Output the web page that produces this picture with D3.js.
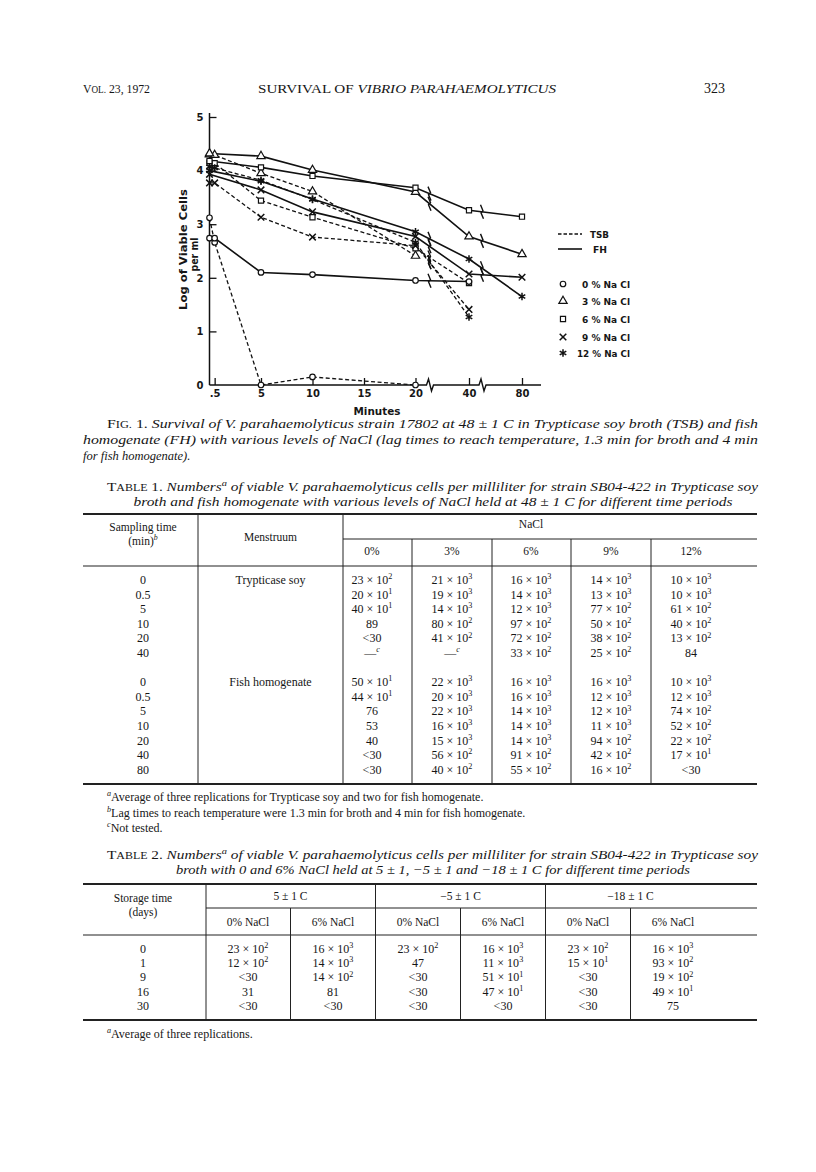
<!DOCTYPE html>
<html>
<head>
<meta charset="utf-8">
<script src="https://d3js.org/d3.v7.min.js"></script>
<style>
  body { margin: 0; background: #fff; }
  svg text { fill: #161616; }
</style>
</head>
<body>
<div id="page"></div>
<script>
// ---------- Fig. 1 data: log of viable cells per ml ----------
var minuteTicks = [0.5, 5, 10, 15, 20, 40, 80];
var minuteLabels = [".5", "5", "10", "15", "20", "40", "80"];
var logTicks = [0, 1, 2, 3, 4, 5];

var tsb0  = [[0, 3.12], [0.5, 2.66], [5, 0], [10, 0.15], [20, 0]];
var tsb3  = [[0, 4.30], [0.5, 4.29], [5, 3.95], [10, 3.61], [20, 2.41]];
var tsb6  = [[0, 4.15], [0.5, 4.14], [5, 3.44], [10, 3.13], [20, 2.55], [40, 1.90]];
var tsb9  = [[0, 3.77], [0.5, 3.77], [5, 3.13], [10, 2.76], [20, 2.60], [40, 1.41]];
var tsb12 = [[0, 4.07], [0.5, 4.05], [5, 3.82], [10, 3.46], [20, 2.66], [40, 1.27]];
var fh0  = [[0, 2.74], [0.5, 2.74], [5, 2.10], [10, 2.06], [20, 1.95], [40, 1.93]];
var fh3  = [[0, 4.32], [5, 4.27], [10, 4.01], [20, 3.60], [40, 2.77], [80, 2.44]];
var fh6  = [[0, 4.18], [5, 4.06], [10, 3.90], [20, 3.68], [40, 3.26], [80, 3.14]];
var fh9  = [[0, 3.93], [5, 3.64], [10, 3.23], [20, 2.77], [40, 2.07], [80, 2.01]];
var fh12 = [[0, 4.00], [5, 3.80], [10, 3.47], [20, 2.86], [40, 2.35], [80, 1.65]];

var saltLevels = [0, 3, 6, 9, 12];

// ---------- Table 1 ----------
var t1Cols = ["0%", "3%", "6%", "9%", "12%"];
var t1TsbTimes = ["0", "0.5", "5", "10", "20", "40"];
var t1Tsb = [
  ["23 × 10^{2}", "21 × 10^{3}", "16 × 10^{3}", "14 × 10^{3}", "10 × 10^{3}"],
  ["20 × 10^{1}", "19 × 10^{3}", "14 × 10^{3}", "13 × 10^{3}", "10 × 10^{3}"],
  ["40 × 10^{1}", "14 × 10^{3}", "12 × 10^{3}", "77 × 10^{2}", "61 × 10^{2}"],
  ["89", "80 × 10^{2}", "97 × 10^{2}", "50 × 10^{2}", "40 × 10^{2}"],
  ["<30", "41 × 10^{2}", "72 × 10^{2}", "38 × 10^{2}", "13 × 10^{2}"],
  ["—^{c}", "—^{c}", "33 × 10^{2}", "25 × 10^{2}", "84"]
];
var t1FhTimes = ["0", "0.5", "5", "10", "20", "40", "80"];
var t1Fh = [
  ["50 × 10^{1}", "22 × 10^{3}", "16 × 10^{3}", "16 × 10^{3}", "10 × 10^{3}"],
  ["44 × 10^{1}", "20 × 10^{3}", "16 × 10^{3}", "12 × 10^{3}", "12 × 10^{3}"],
  ["76", "22 × 10^{3}", "14 × 10^{3}", "12 × 10^{3}", "74 × 10^{2}"],
  ["53", "16 × 10^{3}", "14 × 10^{3}", "11 × 10^{3}", "52 × 10^{2}"],
  ["40", "15 × 10^{3}", "14 × 10^{3}", "94 × 10^{2}", "22 × 10^{2}"],
  ["<30", "56 × 10^{2}", "91 × 10^{2}", "42 × 10^{2}", "17 × 10^{1}"],
  ["<30", "40 × 10^{2}", "55 × 10^{2}", "16 × 10^{2}", "<30"]
];

// ---------- Table 2 ----------
var t2Temps = ["5 ± 1 C", "−5 ± 1 C", "−18 ± 1 C"];
var t2Sub = ["0% NaCl", "6% NaCl"];
var t2Days = ["0", "1", "9", "16", "30"];
var t2Rows = [
  ["23 × 10^{2}", "16 × 10^{3}", "23 × 10^{2}", "16 × 10^{3}", "23 × 10^{2}", "16 × 10^{3}"],
  ["12 × 10^{2}", "14 × 10^{3}", "47", "11 × 10^{3}", "15 × 10^{1}", "93 × 10^{2}"],
  ["<30", "14 × 10^{2}", "<30", "51 × 10^{1}", "<30", "19 × 10^{2}"],
  ["31", "81", "<30", "47 × 10^{1}", "<30", "49 × 10^{1}"],
  ["<30", "<30", "<30", "<30", "<30", "75"]
];

var svg = d3.select("#page").append("svg")
    .attr("width", 816)
    .attr("height", 1172);
svg.append("rect").attr("width", 816).attr("height", 1172).attr("fill", "#fff");

var serif = "'Liberation Serif', 'Times New Roman', serif";
var sans = "'DejaVu Sans', 'Open Sans', sans-serif";

// text with ^{sup}, *italic* and ~{small caps} pieces
function rich(sel, str, fs) {
  var parts = str.split(/(\^\{[^}]*\}|\*[^*]*\*|~\{[^}]*\})/).filter(function(p) { return p !== ""; });
  var shift = 0;
  parts.forEach(function(p) {
    var t = sel.append("tspan"), want = 0;
    if (p.slice(0, 2) === "^{") {
      var s = p.slice(2, -1);
      t.text(s).attr("font-size", fs * 0.68);
      if (/[a-z]/.test(s)) t.attr("font-style", "italic");
      want = -fs * 0.4;
    } else if (p[0] === "*" && p.length > 1) {
      t.text(p.slice(1, -1)).attr("font-style", "italic");
    } else if (p.slice(0, 2) === "~{") {
      t.text(p.slice(2, -1)).attr("font-size", fs * 0.78);
    } else {
      t.text(p);
    }
    if (want !== shift) { t.attr("dy", want - shift); shift = want; }
  });
}

function txt(x, y, str, o) {
  o = o || {};
  var fs = o.size || 12;
  var t = svg.append("text")
      .attr("x", x).attr("y", y)
      .attr("font-family", serif)
      .attr("font-size", fs)
      .attr("text-anchor", o.anchor || "start");
  if (o.len) t.attr("textLength", o.len).attr("lengthAdjust", "spacingAndGlyphs");
  rich(t, str, fs);
  return t;
}

function rule(x1, x2, y, w) {
  svg.append("line").attr("x1", x1).attr("x2", x2).attr("y1", y).attr("y2", y)
     .attr("stroke", "#222").attr("stroke-width", w || 1);
}
function vrule(x, y1, y2) {
  svg.append("line").attr("x1", x).attr("x2", x).attr("y1", y1).attr("y2", y2)
     .attr("stroke", "#222").attr("stroke-width", 1);
}

/******* PAGE HEADER *******/
txt(83, 93, "V~{OL.} 23, 1972", {size: 12.5, len: 67});
txt(407, 93, "SURVIVAL OF *VIBRIO PARAHAEMOLYTICUS*", {size: 12.5, anchor: "middle", len: 298});
txt(725, 93, "323", {size: 14, anchor: "end"});

/******* FIGURE 1 *******/
var x = d3.scaleLinear().domain([0, 20, 40, 80]).range([209.5, 415.5, 469, 522]);
var y = d3.scaleLinear().domain([0, 5]).range([385, 117]);
var break1 = x(20) + 14, break2 = x(40) + 13;

var chart = svg.append("g")
    .attr("font-family", sans)
    .attr("font-weight", "bold");

// x axis: ticks point up into the plot
var gx = chart.append("g")
    .attr("transform", "translate(0,385)")
    .call(d3.axisBottom(x)
        .tickValues(minuteTicks)
        .tickFormat(function(d, i) { return minuteLabels[i]; })
        .tickSizeInner(-7).tickSizeOuter(0).tickPadding(5));
gx.select(".domain").remove();
gx.selectAll("line").attr("stroke", "#111").attr("stroke-width", 1.3);
gx.selectAll("text").attr("font-size", 10).attr("font-family", sans).attr("font-weight", "bold").attr("fill", "#161616");

// axis line with the two scale breaks
chart.append("path")
    .attr("d", "M209.5,385H" + (break1 - 3) + "l2,-6l3,12l2,-6H" + (break2 - 3) + "l2,-6l3,12l2,-6H541")
    .attr("fill", "none").attr("stroke", "#111").attr("stroke-width", 1.4);

var gy = chart.append("g")
    .attr("transform", "translate(209.5,0)")
    .call(d3.axisLeft(y).tickValues(logTicks).tickFormat(d3.format("d"))
        .tickSizeInner(-7).tickSizeOuter(0).tickPadding(6));
gy.select(".domain").remove();
gy.selectAll(".tick line").attr("stroke", "#111").attr("stroke-width", 1.3)
    .filter(function(d) { return d === 0; }).remove();
gy.selectAll("text").attr("font-size", 10).attr("font-family", sans).attr("font-weight", "bold").attr("fill", "#161616");
chart.append("line").attr("x1", 209.5).attr("x2", 209.5).attr("y1", 385).attr("y2", 113)
    .attr("stroke", "#111").attr("stroke-width", 1.5);

chart.append("text")
    .attr("transform", "translate(187,249.5) rotate(-90)")
    .attr("text-anchor", "middle").attr("font-size", 10)
    .attr("textLength", 121).attr("lengthAdjust", "spacingAndGlyphs")
    .text("Log of Viable Cells");
chart.append("text")
    .attr("transform", "translate(198,254.5) rotate(-90)")
    .attr("text-anchor", "middle").attr("font-size", 10)
    .attr("textLength", 34).attr("lengthAdjust", "spacingAndGlyphs")
    .text("per ml");
chart.append("text")
    .attr("x", 377).attr("y", 415)
    .attr("text-anchor", "middle").attr("font-size", 10)
    .attr("textLength", 47).attr("lengthAdjust", "spacingAndGlyphs")
    .text("Minutes");

var series = [
  {data: tsb0, medium: "TSB", salt: 0}, {data: tsb3, medium: "TSB", salt: 3},
  {data: tsb6, medium: "TSB", salt: 6}, {data: tsb9, medium: "TSB", salt: 9},
  {data: tsb12, medium: "TSB", salt: 12},
  {data: fh0, medium: "FH", salt: 0}, {data: fh3, medium: "FH", salt: 3},
  {data: fh6, medium: "FH", salt: 6}, {data: fh9, medium: "FH", salt: 9},
  {data: fh12, medium: "FH", salt: 12}
];
var symbolOf = {0: d3.symbolCircle, 3: d3.symbolTriangle, 6: d3.symbolSquare, 9: d3.symbolTimes, 12: d3.symbolAsterisk};
var sizeOf = {0: 24, 3: 30, 6: 26, 9: 30, 12: 40};

var line = d3.line().x(function(d) { return x(d[0]); }).y(function(d) { return y(d[1]); });

series.forEach(function(s) {
  chart.append("path")
      .datum(s.data)
      .attr("d", line)
      .attr("fill", "none")
      .attr("stroke", "#111")
      .attr("stroke-width", s.medium === "FH" ? 1.6 : 1.3)
      .attr("stroke-dasharray", s.medium === "TSB" ? "4,2.5" : null);

  // break marks where a line crosses the scale breaks
  for (var i = 1; i < s.data.length; i++) {
    var a = s.data[i - 1], b = s.data[i], bx = null;
    if (a[0] <= 20 && b[0] >= 40) bx = break1;
    if (a[0] === 40 && b[0] === 80) bx = break2;
    if (bx === null) continue;
    var xa = x(a[0]), xb = x(b[0]), ya = y(a[1]), yb = y(b[1]);
    var yy = ya + (yb - ya) * (bx - xa) / (xb - xa);
    chart.append("path")
        .attr("d", "M" + (bx - 1.5) + "," + (yy - 7) + "L" + (bx + 1) + "," + (yy - 1) +
                   "L" + (bx - 1) + "," + (yy + 1) + "L" + (bx + 1.5) + "," + (yy + 7))
        .attr("fill", "none").attr("stroke", "#111").attr("stroke-width", 1.4);
  }
});

function marker(g, salt, px, py) {
  var open = salt <= 6;
  g.append("path")
      .attr("transform", "translate(" + px + "," + py + ")")
      .attr("d", d3.symbol().type(symbolOf[salt]).size(sizeOf[salt])())
      .attr("fill", open ? "#fff" : "none")
      .attr("stroke", "#111")
      .attr("stroke-width", open ? 1.2 : 1.5);
}
series.forEach(function(s) {
  s.data.forEach(function(d) { marker(chart, s.salt, x(d[0]), y(d[1])); });
});

// legend
chart.append("line").attr("x1", 558).attr("x2", 582).attr("y1", 234).attr("y2", 234)
    .attr("stroke", "#111").attr("stroke-width", 1.3).attr("stroke-dasharray", "3.5,2");
chart.append("text").attr("x", 590).attr("y", 238).attr("font-size", 9.5)
    .attr("textLength", 19).attr("lengthAdjust", "spacingAndGlyphs").text("TSB");
chart.append("line").attr("x1", 558).attr("x2", 582).attr("y1", 249).attr("y2", 249)
    .attr("stroke", "#111").attr("stroke-width", 1.6);
chart.append("text").attr("x", 593).attr("y", 253).attr("font-size", 9.5)
    .attr("textLength", 14).attr("lengthAdjust", "spacingAndGlyphs").text("FH");
var legendY = [284, 301, 319, 337, 353];
saltLevels.forEach(function(salt, i) {
  marker(chart, salt, 563, legendY[i]);
  chart.append("text")
      .attr("x", salt >= 10 ? 577 : 582).attr("y", legendY[i] + 3.5)
      .attr("font-size", 9.5)
      .attr("textLength", salt >= 10 ? 53 : 48).attr("lengthAdjust", "spacingAndGlyphs")
      .text(salt + " % Na Cl");
});

/******* CAPTION + TABLE 1 *******/
txt(107, 428, "F~{IG.} 1. *Survival of V. parahaemolyticus strain 17802 at 48 ± 1 C in Trypticase soy broth (TSB) and fish*", {size: 12.5, len: 651});
txt(83, 444, "*homogenate (FH) with various levels of NaCl (lag times to reach temperature, 1.3 min for broth and 4 min*", {size: 12.5, len: 675});
txt(83, 460, "*for fish homogenate).*", {size: 12.5});

txt(107, 491, "T~{ABLE} 1. *Numbers*^{a}* of viable V. parahaemolyticus cells per milliliter for strain SB04-422 in Trypticase soy*", {size: 12.5, len: 651});
txt(433, 506, "*broth and fish homogenate with various levels of NaCl held at 48 ± 1 C for different time periods*", {size: 12.5, anchor: "middle", len: 599});

var t1L = 83, t1R = 757, t1C1 = 198, t1C2 = 343;
var t1Mid = [372, 452, 531, 611, 691];
var t1Inner = [412, 492, 571, 651];
var t1Row = 14.6;

rule(t1L, t1R, 514, 2);
txt(143, 531, "Sampling time", {size: 11.5, anchor: "middle"});
txt(143, 545, "(min)^{b}", {size: 11.5, anchor: "middle"});
txt((t1C1 + t1C2) / 2, 541, "Menstruum", {size: 11.5, anchor: "middle"});
txt(531, 528, "NaCl", {size: 11.5, anchor: "middle"});
rule(t1C2, t1R, 539, 1);
t1Cols.forEach(function(c, i) { txt(t1Mid[i], 555, c, {size: 11.5, anchor: "middle"}); });
rule(t1L, t1R, 566, 1.2);
vrule(t1C1, 514, 784);
vrule(t1C2, 514, 784);
t1Inner.forEach(function(e) { vrule(e, 539, 784); });

function tableBlock(times, rows, label, y0, step, colX, timeX, labelX) {
  times.forEach(function(t, r) {
    var yy = y0 + r * step;
    txt(timeX, yy, t, {size: 12, anchor: "middle"});
    rows[r].forEach(function(v, c) { txt(colX[c], yy, v, {size: 12, anchor: "middle"}); });
  });
  if (label) txt(labelX, y0, label, {size: 12, anchor: "middle"});
}
tableBlock(t1TsbTimes, t1Tsb, "Trypticase soy", 584, t1Row, t1Mid, 143, (t1C1 + t1C2) / 2);
tableBlock(t1FhTimes, t1Fh, "Fish homogenate", 584 + 7 * t1Row, t1Row, t1Mid, 143, (t1C1 + t1C2) / 2);
rule(t1L, t1R, 784, 2);

txt(107, 801, "^{a}Average of three replications for Trypticase soy and two for fish homogenate.", {size: 12});
txt(107, 817, "^{b}Lag times to reach temperature were 1.3 min for broth and 4 min for fish homogenate.", {size: 12});
txt(107, 832, "^{c}Not tested.", {size: 12});

/******* TABLE 2 *******/
txt(107, 859, "T~{ABLE} 2. *Numbers*^{a}* of viable V. parahaemolyticus cells per milliliter for strain SB04-422 in Trypticase soy*", {size: 12.5, len: 651});
txt(433, 874, "*broth with 0 and 6% NaCl held at 5 ± 1, −5 ± 1 and −18 ± 1 C for different time periods*", {size: 12.5, anchor: "middle", len: 514});

var t2L = 83, t2R = 757, t2C1 = 206;
var t2Mid = [248, 333, 418, 503, 588, 673];
var t2Inner = [290.5, 375.5, 460.5, 545.5, 630.5];
var t2Row = 14.2;

rule(t2L, t2R, 884, 2);
txt(143, 902, "Storage time", {size: 11.5, anchor: "middle"});
txt(143, 916, "(days)", {size: 11.5, anchor: "middle"});
t2Temps.forEach(function(t, i) {
  txt((t2Mid[i * 2] + t2Mid[i * 2 + 1]) / 2, 900, t, {size: 11.5, anchor: "middle"});
});
rule(t2C1, t2R, 908, 1);
t2Mid.forEach(function(m, i) { txt(m, 926, t2Sub[i % 2], {size: 11.5, anchor: "middle"}); });
rule(t2L, t2R, 935, 1.2);
vrule(t2C1, 884, 1020);
[1, 3].forEach(function(i) { vrule(t2Inner[i], 884, 1020); });
[0, 2, 4].forEach(function(i) { vrule(t2Inner[i], 908, 1020); });
tableBlock(t2Days, t2Rows, null, 953, t2Row, t2Mid, 143, 0);
rule(t2L, t2R, 1020, 2);
txt(107, 1038, "^{a}Average of three replications.", {size: 12});
</script>
</body>
</html>
